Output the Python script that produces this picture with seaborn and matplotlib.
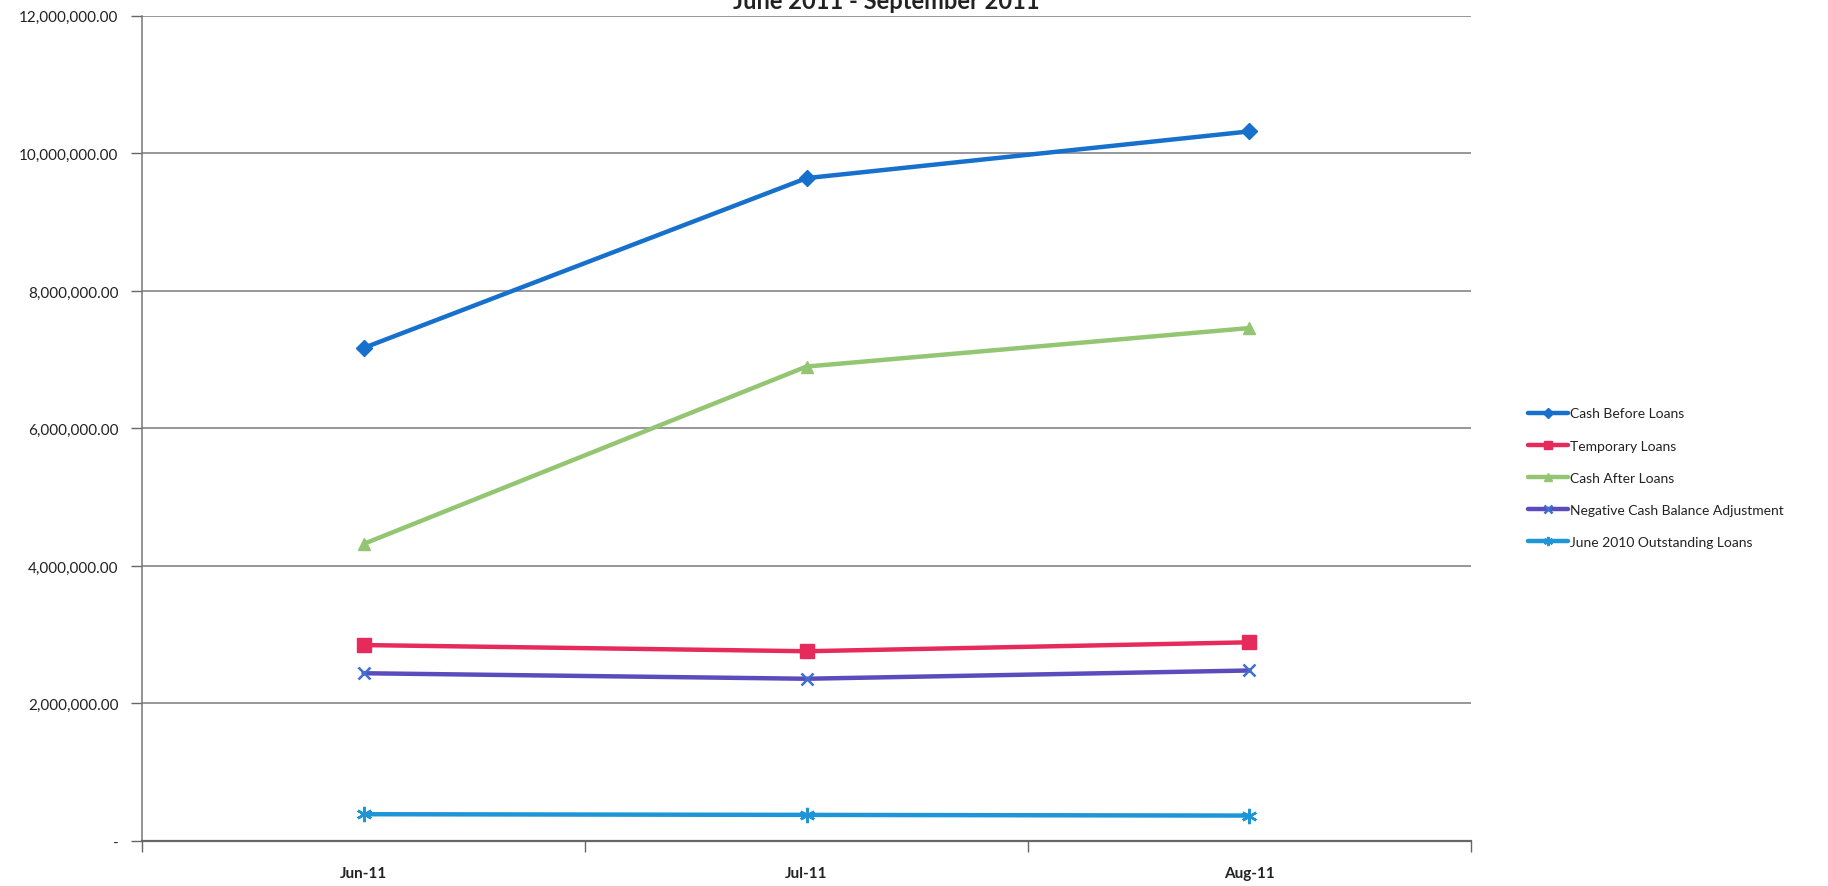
import matplotlib
matplotlib.use("Agg")
import matplotlib.pyplot as plt
import matplotlib.ticker as mticker
import seaborn as sns
import pandas as pd

# Monthly cash position values
months = ["Jun-11", "Jul-11", "Aug-11"]
cash_before_loans = [7170000, 9640000, 10320000]
temporary_loans = [2850000, 2760000, 2890000]
cash_after_loans = [4320000, 6900000, 7460000]
negative_cash_adj = [2440000, 2360000, 2480000]
june_2010_outstanding = [390000, 380000, 370000]

series_names = [
    "Cash Before Loans",
    "Temporary Loans",
    "Cash After Loans",
    "Negative Cash Balance Adjustment",
    "June 2010 Outstanding Loans",
]
series_values = [
    cash_before_loans,
    temporary_loans,
    cash_after_loans,
    negative_cash_adj,
    june_2010_outstanding,
]
y_ticks = [0, 2000000, 4000000, 6000000, 8000000, 10000000, 12000000]
title_text = "June 2011 - September 2011"

colors = ["#1670cc", "#e62a5c", "#93c572", "#5a4cbc", "#1d95d6"]
marker_colors = ["#1670cc", "#e62a5c", "#93c572", "#3f6fd0", "#1d95d6"]
markers = ["D", "s", "^", "x", (6, 2, 0)]
marker_sizes = [8, 10, 9, 9, 11]

rows = []
for name, vals in zip(series_names, series_values):
    for i, (m, v) in enumerate(zip(months, vals)):
        rows.append({"series": name, "pos": i, "month": m, "value": v})
df = pd.DataFrame(rows)

sns.set_theme(style="white")
plt.rcParams["font.family"] = ["Lato", "DejaVu Sans"]

fig = plt.figure(figsize=(18.28, 8.87), dpi=100)
ax = fig.add_axes([0.0777, 0.0507, 0.7270, 0.9303])

for name, c, mc, mk, ms in zip(series_names, colors, marker_colors, markers, marker_sizes):
    sub = df[df["series"] == name]
    sns.lineplot(
        data=sub, x="pos", y="value", ax=ax, color=c, linewidth=3.2,
        marker=mk, markersize=ms, markerfacecolor=mc, markeredgecolor=mc,
        markeredgewidth=1.8 if mk in ("x", (6, 2, 0)) else 1.0,
        label=name, legend=False, zorder=3,
    )

ax.set_xlim(-0.5, 2.5)
ax.set_ylim(0, 12000000)
ax.set_yticks(y_ticks)


def fmt_money(v, _pos):
    if v == 0:
        return "-"
    return f"{v:,.2f}"


ax.yaxis.set_major_formatter(mticker.FuncFormatter(fmt_money))
ax.grid(axis="y", color="#7a7a7a", linewidth=1.1, zorder=0)
ax.grid(axis="x", visible=False)

# Category labels between boundary ticks
ax.set_xticks([-0.5, 0.5, 1.5, 2.5])
ax.set_xticklabels([])
ax.set_xticks(range(len(months)), minor=True)
ax.set_xticklabels(months, minor=True, fontsize=11, fontweight="bold", color="#222222")
ax.tick_params(axis="x", which="minor", length=0, pad=18)
ax.tick_params(axis="x", which="major", length=8, width=1, color="#666666", direction="out", bottom=True)
ax.tick_params(axis="y", length=8, width=1, color="#666666", direction="out", left=True,
               labelsize=11, labelcolor="#222222", pad=9)

ax.set_xlabel("")
ax.set_ylabel("")
for side in ("top", "right"):
    ax.spines[side].set_visible(False)
ax.spines["left"].set_color("#777777")
ax.spines["left"].set_linewidth(1.1)
ax.spines["bottom"].set_color("#666666")
ax.spines["bottom"].set_linewidth(1.6)

fig.text(886 / 1828, 1 - 9 / 887, title_text, ha="center", va="baseline",
         fontsize=17, fontweight="bold", color="#222222")

handles, labels = ax.get_legend_handles_labels()
fig.legend(handles, labels, loc="upper left", bbox_to_anchor=(1515 / 1828, 1 - 396 / 887),
           frameon=False, fontsize=10, handlelength=2.9, handletextpad=0.15,
           labelspacing=1.45, markerscale=0.6, labelcolor="#222222")

fig.savefig("out.png", dpi=100)
